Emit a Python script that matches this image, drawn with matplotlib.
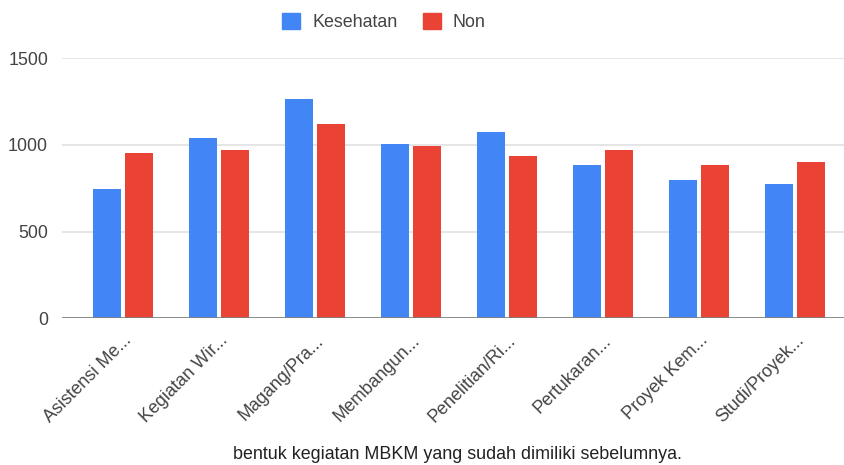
import numpy as np
import matplotlib
matplotlib.use("Agg")
import matplotlib.pyplot as plt
from matplotlib.patches import Patch

# Data
categories = [
    "Asistensi Me...", "Kegiatan Wir...", "Magang/Pra...", "Membangun...",
    "Penelitian/Ri...", "Pertukaran...", "Proyek Kem...", "Studi/Proyek...",
]
kesehatan = [745, 1040, 1268, 1006, 1077, 884, 798, 772]
non = [955, 972, 1122, 992, 937, 972, 884, 901]
series_names = ["Kesehatan", "Non"]
yticks = [0, 500, 1000, 1500]

BLUE = "#4285F4"
RED = "#EA4335"
TEXT = "#444444"
FONT = "Liberation Sans"
FS = 12.9

W, H = 844, 465
fig = plt.figure(figsize=(W / 100, H / 100), dpi=100)

# axes placed in pixel coordinates
left, right = 62, 844
top, bottom = 58.3, 318.3
ax = fig.add_axes([left / W, (H - bottom) / H, (right - left) / W, (bottom - top) / H])

x = np.arange(len(categories))
bw = 0.292
off = 0.167
ax.bar(x - off, kesehatan, width=bw, color=BLUE, zorder=3)
ax.bar(x + off, non, width=bw, color=RED, zorder=3)

ax.set_xlim(-0.635, 7.51)
ax.set_ylim(0, 1500)
ax.set_yticks(yticks)
ax.set_yticklabels([str(v) for v in yticks], fontsize=FS, color=TEXT, family=FONT)
ax.tick_params(axis="y", length=0, pad=10)

for v in yticks[1:]:
    ax.axhline(v, color="#e0e0e0", lw=1.2, zorder=1)
ax.axhline(0, color="#808080", lw=2, zorder=4)

for s in ax.spines.values():
    s.set_visible(False)

ax.set_xticks(x)
ax.set_xticklabels(categories, rotation=45, ha="right", va="top",
                   rotation_mode="anchor", fontsize=FS, color=TEXT, family=FONT)
ax.tick_params(axis="x", length=0, pad=10)

handles = [Patch(color=BLUE, label=series_names[0]),
           Patch(color=RED, label=series_names[1])]
fig.legend(handles=handles, loc="center", bbox_to_anchor=(384 / W, (H - 22) / H),
           ncol=2, frameon=False, handlelength=1.0, handleheight=1.0,
           handletextpad=0.67, columnspacing=1.4, borderpad=0,
           prop={"family": FONT, "size": FS}, labelcolor="#444444")

fig.text(457 / W, (H - 454) / H, "bentuk kegiatan MBKM yang sudah dimiliki sebelumnya.",
         ha="center", va="center", fontsize=FS, color="#222222", family=FONT)

fig.savefig("out.png", dpi=100)
